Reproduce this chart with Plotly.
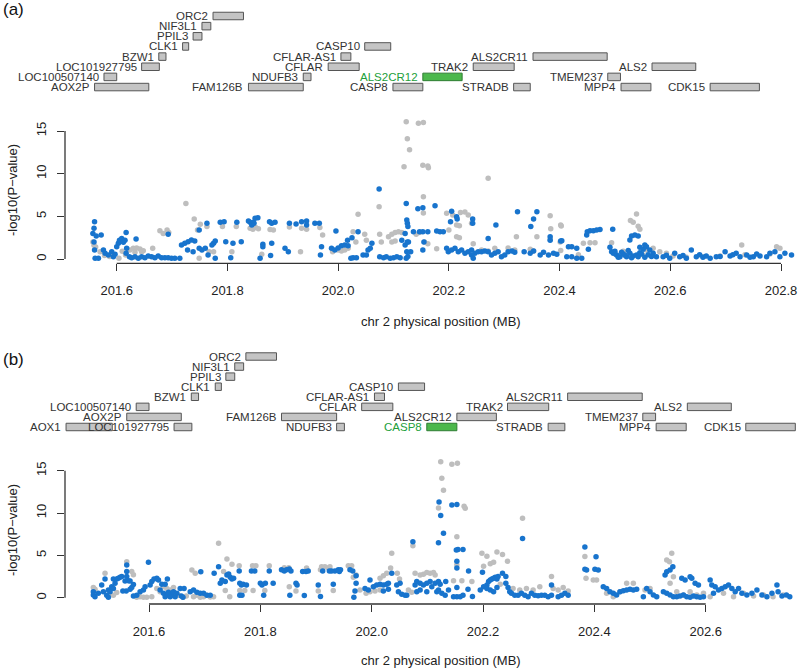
import plotly.graph_objects as go

# ---------------- gene track data (positions in MB) ----------------
gene_names = ["AOX1", "AOX2P", "LOC100507140", "LOC101927795", "BZW1", "CLK1", "PPIL3",
              "NIF3L1", "ORC2", "FAM126B", "NDUFB3", "CFLAR", "CFLAR-AS1", "CASP10",
              "CASP8", "ALS2CR12", "TRAK2", "STRADB", "ALS2CR11", "TMEM237", "MPP4",
              "ALS2", "CDK15"]
gene_start = [201.451, 201.560, 201.577, 201.645, 201.676, 201.719, 201.738,
              201.754, 201.774, 201.838, 201.937, 201.982, 202.005, 202.048,
              202.099, 202.153, 202.244, 202.317, 202.352, 202.487, 202.511,
              202.567, 202.672]
gene_end = [201.534, 201.658, 201.600, 201.677, 201.689, 201.730, 201.754,
            201.770, 201.829, 201.937, 201.951, 202.038, 202.023, 202.095,
            202.153, 202.224, 202.318, 202.347, 202.486, 202.510, 202.565,
            202.646, 202.761]
rows_a = [None, 7, 6, 5, 4, 3, 2, 1, 0, 7, 6, 5, 4, 3, 7, 6, 5, 7, 4, 6, 7, 5, 7]
rows_b = [7, 6, 5, 7, 4, 3, 2, 1, 0, 6, 7, 5, 4, 3, 7, 6, 5, 7, 4, 6, 7, 5, 7]
highlight_a = "ALS2CR12"
highlight_b = "CASP8"

x_ticks_a = [201.6, 201.8, 202.0, 202.2, 202.4, 202.6, 202.8]
x_ticks_b = [201.6, 201.8, 202.0, 202.2, 202.4, 202.6]
y_ticks = [0, 5, 10, 15]

# ---------------- association data: (position MB, -log10 P) ----------------
a_gray = [
    (201.557, 2.0), (201.559, 1.6), (201.562, 1.4), (201.570, 0.86), (201.578, 0.4),
    (201.587, 0.3), (201.593, 0.5), (201.604, 0.1), (201.610, 0.9), (201.616, 0.47),
    (201.624, 1.05), (201.630, 1.25), (201.636, 1.3), (201.642, 1.18), (201.648, 0.98),
    (201.633, 0.78), (201.645, 0.86), (201.665, 1.25), (201.678, 3.3), (201.684, 3.0),
    (201.691, 3.4), (201.694, 3.1), (201.725, 6.5), (201.740, 4.7), (201.751, 4.07),
    (201.746, 3.4), (201.749, 0.1), (201.767, 0.86), (201.763, 3.8), (201.775, 0.86),
    (201.791, 3.8), (201.808, 0.86), (201.816, 3.8), (201.841, 3.6), (201.846, 3.5),
    (201.851, 3.7), (201.856, 3.55), (201.862, 0.55), (201.877, 3.45), (201.883, 3.4),
    (201.912, 3.75), (201.934, 3.6), (201.943, 3.5), (201.932, 0.86), (201.967, 3.7),
    (201.972, 2.8), (201.990, 0.86), (202.000, 1.05), (202.006, 0.94), (202.012, 1.05),
    (202.018, 1.25), (202.027, 3.2), (202.032, 2.0), (202.036, 5.24), (202.048, 2.9),
    (202.051, 2.2), (202.074, 6.13), (202.075, 2.9), (202.078, 2.0), (202.091, 2.6),
    (202.097, 2.9), (202.103, 3.1), (202.109, 3.2), (202.115, 3.1), (202.097, 2.0),
    (202.103, 2.1), (202.119, 10.8), (202.123, 16.1), (202.125, 14.1), (202.129, 12.8),
    (202.145, 15.9), (202.154, 16.0), (202.153, 11.0), (202.162, 10.9), (202.163, 10.7),
    (202.154, 7.3), (202.154, 5.4), (202.141, 2.9), (202.147, 3.1), (202.162, 1.8),
    (202.156, 2.0), (202.178, 1.2), (202.196, 5.36), (202.200, 3.4), (202.207, 5.15),
    (202.214, 4.0), (202.219, 3.9), (202.221, 5.45), (202.229, 5.5), (202.235, 5.15),
    (202.241, 4.2), (202.244, 1.8), (202.214, 2.6), (202.219, 2.5), (202.271, 9.46),
    (202.259, 1.05), (202.271, 0.94), (202.283, 1.25), (202.307, 1.3), (202.319, 1.05),
    (202.322, 2.6), (202.347, 1.15), (202.353, 0.94), (202.359, 2.6), (202.383, 5.07),
    (202.384, 3.55), (202.383, 2.3), (202.402, 4.0), (202.402, 1.0), (202.403, 3.87),
    (202.401, 2.0), (202.434, 0.5), (202.443, 1.84), (202.455, 1.9), (202.464, 1.9),
    (202.494, 1.9), (202.500, 0.6), (202.515, 0.9), (202.520, 0.4), (202.528, 4.5),
    (202.533, 4.3), (202.539, 5.27), (202.542, 3.85), (202.545, 3.5), (202.550, 0.5),
    (202.557, 1.05), (202.569, 1.25), (202.581, 0.86), (202.593, 0.67), (202.605, 0.35),
    (202.629, 0.2), (202.659, 0.27), (202.690, 0.35), (202.729, 1.64), (202.735, 0.5),
    (202.780, 0.6), (202.792, 1.44), (202.798, 1.25),
]
a_blue = [
    (201.560, 4.37), (201.559, 3.6), (201.557, 3.0), (201.563, 2.7), (201.572, 2.8),
    (201.559, 2.0), (201.560, 1.05), (201.561, 0.1), (201.567, 0.1), (201.576, 1.05),
    (201.579, 0.67), (201.585, 0.47), (201.591, 0.86), (201.594, 0.27), (201.597, 0.55),
    (201.600, 1.44), (201.603, 1.84), (201.605, 2.2), (201.609, 2.4), (201.612, 1.95),
    (201.617, 3.1), (201.615, 2.2), (201.618, 1.25), (201.617, 0.67), (201.623, 0.27),
    (201.627, 0.15), (201.633, 0.27), (201.639, 0.1), (201.645, 0.27), (201.651, 0.15),
    (201.657, 0.35), (201.663, 0.27), (201.669, 0.15), (201.675, 0.35), (201.681, 0.15),
    (201.687, 0.15), (201.693, 0.15), (201.699, 0.1), (201.705, 0.1), (201.714, 0.1),
    (201.635, 2.35), (201.693, 2.9), (201.717, 1.64), (201.723, 1.84), (201.729, 2.03),
    (201.735, 2.23), (201.741, 2.1), (201.728, 1.05), (201.738, 0.86), (201.749, 3.4),
    (201.749, 1.25), (201.754, 1.05), (201.760, 1.25), (201.763, 4.2), (201.765, 0.47),
    (201.772, 1.64), (201.775, 1.84), (201.778, 2.1), (201.778, 0.1), (201.787, 4.3),
    (201.794, 4.37), (201.797, 2.03), (201.806, 0.15), (201.810, 1.84), (201.817, 4.3),
    (201.825, 2.03), (201.838, 4.45), (201.841, 4.3), (201.844, 4.0), (201.847, 4.3),
    (201.850, 4.77), (201.855, 4.84), (201.848, 4.2), (201.859, 0.1), (201.864, 1.72),
    (201.864, 1.44), (201.876, 4.37), (201.880, 4.2), (201.886, 4.3), (201.880, 1.84),
    (201.878, 0.4), (201.904, 1.25), (201.910, 0.86), (201.912, 4.2), (201.924, 4.1),
    (201.934, 4.37), (201.943, 4.45), (201.943, 4.0), (201.958, 4.2), (201.966, 4.2),
    (201.970, 1.44), (201.968, 0.47), (201.988, 1.25), (201.994, 1.05), (201.996, 3.28),
    (202.000, 1.3), (202.006, 1.56), (202.012, 1.64), (202.018, 1.56), (202.023, 0.1),
    (202.027, 0.15), (202.033, 0.15), (202.017, 2.2), (202.025, 2.5), (202.036, 3.2),
    (202.045, 0.47), (202.051, 0.47), (202.054, 1.05), (202.058, 1.25), (202.061, 1.84),
    (202.074, 8.2), (202.075, 0.27), (202.082, 0.15), (202.087, 0.27), (202.094, 0.1),
    (202.100, 0.15), (202.106, 0.27), (202.112, 0.15), (202.115, 2.2), (202.121, 3.0),
    (202.123, 6.5), (202.124, 4.57), (202.125, 4.2), (202.126, 3.8), (202.121, 1.64),
    (202.125, 2.0), (202.124, 0.86), (202.123, 0.1), (202.126, 0.3), (202.127, 2.0),
    (202.131, 0.86), (202.136, 3.2), (202.144, 5.9), (202.153, 6.0), (202.147, 3.2),
    (202.153, 3.2), (202.162, 3.2), (202.153, 1.05), (202.155, 2.0), (202.175, 6.25),
    (202.178, 3.28), (202.184, 3.2), (202.190, 3.2), (202.196, 1.25), (202.199, 0.86),
    (202.205, 1.05), (202.211, 1.25), (202.217, 0.86), (202.223, 1.05), (202.229, 0.67),
    (202.235, 0.86), (202.241, 1.05), (202.247, 0.67), (202.253, 0.86), (202.205, 5.6),
    (202.203, 4.37), (202.214, 4.96), (202.215, 4.7), (202.243, 4.7), (202.243, 4.2),
    (202.241, 0.47), (202.244, 0.1), (202.259, 0.86), (202.265, 0.94), (202.271, 0.86),
    (202.277, 0.47), (202.283, 0.67), (202.289, 0.86), (202.295, 0.27), (202.301, 0.47),
    (202.307, 0.86), (202.314, 0.94), (202.319, 0.78), (202.271, 2.4), (202.285, 4.0),
    (202.324, 5.55), (202.348, 3.8), (202.353, 4.7), (202.359, 5.55), (202.336, 0.86),
    (202.347, 0.67), (202.353, 0.94), (202.365, 0.47), (202.371, 0.78), (202.380, 0.47),
    (202.389, 0.67), (202.395, 0.55), (202.383, 2.6), (202.383, 2.2), (202.402, 2.1),
    (202.404, 2.15), (202.416, 1.44), (202.422, 1.44), (202.431, 1.25), (202.413, 0.27),
    (202.422, 0.27), (202.431, 0.1), (202.440, 0.1), (202.449, 2.8), (202.450, 3.2),
    (202.455, 3.32), (202.461, 3.32), (202.467, 3.4), (202.473, 3.47), (202.452, 1.13),
    (202.496, 3.48), (202.491, 1.37), (202.494, 0.86), (202.497, 0.67), (202.503, 0.47),
    (202.509, 0.27), (202.515, 0.59), (202.521, 0.27), (202.527, 0.67), (202.533, 0.35),
    (202.539, 0.47), (202.545, 0.74), (202.551, 1.13), (202.557, 1.44), (202.563, 1.05),
    (202.569, 0.67), (202.575, 0.27), (202.500, 0.9), (202.506, 0.2), (202.512, 0.8),
    (202.518, 0.45), (202.524, 1.0), (202.530, 0.15), (202.542, 0.25), (202.548, 0.6),
    (202.554, 0.2), (202.560, 0.5), (202.566, 0.3), (202.527, 2.23), (202.530, 2.7),
    (202.536, 2.8), (202.542, 2.7), (202.545, 1.37), (202.554, 1.64), (202.587, 0.27),
    (202.599, 0.1), (202.608, 0.67), (202.617, 0.27), (202.629, 0.1), (202.638, 1.05),
    (202.647, 0.27), (202.659, 0.2), (202.672, 0.1), (202.683, 0.27), (202.699, 0.86),
    (202.708, 0.35), (202.719, 0.67), (202.726, 0.27), (202.738, 0.47), (202.750, 0.27),
    (202.762, 0.35), (202.774, 0.27), (202.780, 0.67), (202.789, 0.86), (202.798, 0.27),
    (202.807, 0.67), (202.819, 0.47), (202.593, 0.45), (202.623, 0.4), (202.653, 0.5),
    (202.665, 0.35), (202.690, 0.3), (202.713, 0.5), (202.744, 0.2), (202.756, 0.6),
]
b_gray = [
    (201.500, 1.2), (201.503, 1.0), (201.521, 2.9), (201.530, 0.5), (201.536, 0.3),
    (201.542, 0.6), (201.560, 4.25), (201.569, 3.1), (201.572, 2.7), (201.578, 0.05),
    (201.584, 0.12), (201.590, 0.05), (201.596, 0.05), (201.605, 0.1), (201.614, 1.1),
    (201.620, 0.71), (201.626, 1.3), (201.632, 1.1), (201.638, 0.91), (201.644, 1.2),
    (201.653, 0.3), (201.661, 0.05), (201.667, 0.2), (201.677, 3.27), (201.683, 2.9),
    (201.680, 0.12), (201.686, 0.3), (201.692, 0.05), (201.698, 0.12), (201.704, 0.3),
    (201.710, 0.08), (201.716, 0.12), (201.725, 6.42), (201.740, 4.57), (201.749, 3.94),
    (201.734, 3.1), (201.737, 0.85), (201.745, 0.1), (201.762, 3.78), (201.763, 0.85),
    (201.772, 0.85), (201.786, 3.78), (201.792, 3.78), (201.787, 0.85), (201.816, 3.78),
    (201.808, 0.85), (201.843, 3.55), (201.851, 3.55), (201.883, 3.5), (201.864, 0.8),
    (201.852, 1.3), (201.904, 0.8), (201.908, 3.3), (201.922, 3.5), (201.910, 3.66),
    (201.916, 3.66), (201.925, 3.66), (201.958, 3.78), (201.964, 3.78), (201.931, 0.85),
    (201.967, 2.4), (201.972, 2.68), (201.979, 0.91), (201.990, 0.52), (201.997, 0.71),
    (202.006, 0.79), (202.015, 0.91), (202.015, 2.3), (202.021, 2.6), (202.027, 2.88),
    (202.036, 5.24), (202.034, 3.5), (202.046, 2.88), (202.050, 2.2), (202.074, 6.13),
    (202.078, 2.88), (202.087, 2.68), (202.093, 2.76), (202.099, 2.99), (202.105, 2.88),
    (202.111, 2.99), (202.114, 2.68), (202.066, 0.91), (202.072, 0.64), (202.120, 10.6),
    (202.124, 16.06), (202.126, 14.1), (202.129, 12.7), (202.144, 15.75), (202.154, 15.87),
    (202.166, 10.8), (202.168, 10.55), (202.153, 7.2), (202.153, 3.9), (202.147, 2.0),
    (202.162, 2.0), (202.180, 1.9), (202.198, 5.24), (202.201, 3.7), (202.207, 4.9),
    (202.213, 4.0), (202.219, 4.2), (202.225, 5.4), (202.235, 5.1), (202.244, 4.3),
    (202.231, 1.6), (202.254, 1.1), (202.266, 0.91), (202.278, 1.1), (202.290, 0.91),
    (202.302, 1.3), (202.271, 9.38), (202.323, 2.5), (202.326, 1.1), (202.335, 0.9),
    (202.344, 1.2), (202.353, 0.8), (202.383, 4.85), (202.385, 2.3), (202.398, 2.1),
    (202.404, 2.1), (202.422, 0.52), (202.434, 0.12), (202.446, 0.71), (202.458, 1.7),
    (202.470, 1.7), (202.491, 0.91), (202.500, 1.1), (202.530, 4.45), (202.539, 5.24),
    (202.535, 4.25), (202.542, 2.48), (202.536, 1.7), (202.548, 0.71), (202.560, 0.32),
    (202.572, 0.71), (202.584, 0.32), (202.596, 0.52), (202.608, 0.12), (202.632, 0.52),
    (202.650, 0.12), (202.668, 0.52), (202.686, 0.2), (202.704, 0.32), (202.721, 0.12),
    (202.739, 0.32),
]
b_blue = [
    (201.500, 0.71), (201.500, 0.31), (201.503, 0.12), (201.509, 0.52), (201.515, 1.5),
    (201.518, 0.71), (201.521, 2.2), (201.524, 0.3), (201.527, 0.91), (201.530, 0.71),
    (201.533, 1.3), (201.536, 1.1), (201.539, 1.7), (201.536, 2.2), (201.542, 2.2),
    (201.545, 2.3), (201.548, 2.4), (201.551, 2.5), (201.527, 0.05), (201.553, 0.8),
    (201.557, 1.97), (201.560, 3.86), (201.560, 3.1), (201.560, 2.5), (201.563, 2.0),
    (201.566, 1.97), (201.559, 0.8), (201.566, 1.0), (201.569, 1.2), (201.572, 1.55),
    (201.572, 0.2), (201.578, 0.3), (201.584, 0.71), (201.590, 0.91), (201.593, 1.3),
    (201.599, 4.18), (201.602, 1.5), (201.605, 1.9), (201.609, 2.2), (201.614, 2.3),
    (201.617, 2.1), (201.623, 1.6), (201.629, 1.6), (201.633, 2.2), (201.620, 0.91),
    (201.626, 0.52), (201.629, 0.12), (201.632, 0.3), (201.635, 0.63), (201.638, 0.12),
    (201.641, 0.3), (201.644, 0.71), (201.647, 0.12), (201.650, 0.52), (201.656, 1.1),
    (201.658, 0.2), (201.661, 0.05), (201.663, 1.1), (201.674, 0.71), (201.680, 0.91),
    (201.686, 0.63), (201.692, 0.52), (201.698, 0.52), (201.704, 0.3), (201.710, 0.3),
    (201.693, 3.07), (201.717, 2.9), (201.725, 3.66), (201.728, 1.7), (201.731, 2.1),
    (201.737, 1.9), (201.740, 2.68), (201.743, 2.8), (201.746, 2.4), (201.749, 2.2),
    (201.752, 2.3), (201.762, 3.15), (201.763, 1.7), (201.766, 1.5), (201.769, 1.6),
    (201.775, 1.5), (201.763, 0.3), (201.767, 0.3), (201.784, 3.15), (201.790, 3.15),
    (201.800, 1.7), (201.803, 1.5), (201.809, 1.7), (201.806, 0.3), (201.816, 3.15),
    (201.823, 1.7), (201.838, 3.3), (201.843, 3.15), (201.847, 3.3), (201.852, 3.4),
    (201.855, 3.15), (201.853, 0.3), (201.864, 1.7), (201.866, 1.5), (201.876, 3.1),
    (201.882, 3.1), (201.886, 3.15), (201.879, 0.25), (201.904, 1.5), (201.908, 0.15),
    (201.912, 3.15), (201.924, 3.15), (201.928, 3.15), (201.934, 3.15), (201.940, 3.3),
    (201.944, 3.3), (201.942, 3.1), (201.931, 1.6), (201.961, 3.3), (201.966, 3.15),
    (201.972, 2.6), (201.972, 1.7), (201.970, 0.8), (201.968, 0.05), (201.988, 1.1),
    (201.994, 0.91), (201.997, 2.1), (202.003, 1.3), (202.009, 1.5), (202.015, 1.6),
    (202.021, 1.5), (202.027, 1.6), (202.030, 1.7), (202.021, 0.8), (202.030, 1.0),
    (202.036, 2.9), (202.045, 1.5), (202.051, 1.7), (202.048, 0.71), (202.054, 0.4),
    (202.060, 0.3), (202.063, 0.3), (202.074, 6.6), (202.078, 1.5), (202.081, 1.9),
    (202.087, 1.7), (202.093, 1.5), (202.099, 1.7), (202.105, 1.9), (202.108, 1.3),
    (202.114, 1.7), (202.120, 1.9), (202.123, 1.6), (202.081, 0.71), (202.087, 0.91),
    (202.099, 0.71), (202.117, 0.71), (202.120, 0.91), (202.126, 0.52), (202.121, 11.3),
    (202.124, 9.7), (202.129, 7.6), (202.120, 6.5), (202.133, 1.9), (202.138, 0.91),
    (202.132, 0.3), (202.144, 10.95), (202.153, 11.0), (202.152, 5.63), (202.155, 5.7),
    (202.164, 5.7), (202.153, 4.3), (202.153, 3.5), (202.153, 1.2), (202.147, 0.12),
    (202.153, 0.12), (202.159, 0.12), (202.164, 0.3), (202.174, 3.15), (202.173, 1.0),
    (202.181, 0.15), (202.199, 3.0), (202.195, 0.91), (202.201, 1.3), (202.207, 1.5),
    (202.210, 1.9), (202.213, 2.1), (202.216, 2.2), (202.219, 2.3), (202.222, 2.4),
    (202.225, 2.2), (202.227, 2.5), (202.207, 1.1), (202.213, 0.91), (202.219, 0.71),
    (202.225, 1.2), (202.235, 2.9), (202.241, 2.5), (202.241, 1.7), (202.245, 1.2),
    (202.248, 0.71), (202.251, 0.52), (202.257, 0.3), (202.263, 0.3), (202.269, 0.52),
    (202.275, 0.3), (202.281, 0.12), (202.287, 0.52), (202.293, 0.3), (202.299, 0.22),
    (202.305, 0.3), (202.311, 0.3), (202.317, 0.12), (202.323, 0.3), (202.335, 0.12),
    (202.341, 0.3), (202.347, 0.52), (202.353, 0.3), (202.271, 7.0), (202.323, 1.5),
    (202.383, 6.0), (202.383, 3.35), (202.386, 3.27), (202.403, 4.84), (202.401, 3.35),
    (202.407, 3.27), (202.416, 1.3), (202.422, 1.1), (202.428, 0.71), (202.434, 0.52),
    (202.440, 0.32), (202.446, 0.71), (202.452, 0.83), (202.458, 0.91), (202.464, 0.99),
    (202.470, 0.91), (202.476, 0.99), (202.494, 1.1), (202.500, 0.71), (202.506, 0.32),
    (202.512, 0.12), (202.488, 0.12), (202.527, 2.68), (202.530, 3.07), (202.536, 3.27),
    (202.541, 3.66), (202.524, 0.71), (202.530, 0.52), (202.536, 0.32), (202.542, 0.12),
    (202.548, 0.12), (202.554, 0.2), (202.560, 0.32), (202.566, 0.12), (202.572, 0.05),
    (202.578, 0.2), (202.584, 0.12), (202.590, 0.05), (202.596, 0.12), (202.557, 2.3),
    (202.563, 2.1), (202.572, 2.48), (202.575, 2.3), (202.581, 1.7), (202.587, 1.5),
    (202.608, 2.1), (202.611, 1.5), (202.617, 1.3), (202.614, 0.52), (202.623, 0.91),
    (202.629, 1.1), (202.635, 1.3), (202.641, 1.5), (202.647, 1.1), (202.653, 0.71),
    (202.659, 1.1), (202.665, 0.52), (202.674, 0.32), (202.683, 0.52), (202.692, 0.91),
    (202.701, 0.32), (202.710, 0.12), (202.719, 0.52), (202.728, 1.5), (202.730, 0.71),
    (202.737, 0.2), (202.745, 0.32), (202.751, 0.12),
]

# ---------------- styling ----------------
BLUE = "#1874CD"
GRAY = "#BEBEBE"
FONT = "Liberation Sans"
TXT = "#222222"
W, H = 800, 668
ML = 65


def py(px):  # pixel row -> paper fraction
    return 1 - px / H


def px_x(px):
    return (px - ML) / (W - ML)


fig = go.Figure()

panels = [
    dict(xa="x", ya="y", gray=a_gray, blue=a_blue),
    dict(xa="x2", ya="y3", gray=b_gray, blue=b_blue),
]
for p in panels:
    for pts, col in ((p["gray"], GRAY), (p["blue"], BLUE)):
        fig.add_trace(go.Scatter(
            x=[q[0] for q in pts], y=[q[1] for q in pts], mode="markers",
            marker=dict(color=col, size=5.5, line=dict(width=0)),
            xaxis=p["xa"], yaxis=p["ya"], showlegend=False, hoverinfo="skip"))

shapes = []
annotations = []

# gene tracks
for (xref, yref, rows, hl) in (("x", "y2", rows_a, highlight_a), ("x2", "y4", rows_b, highlight_b)):
    for name, s, e, r in zip(gene_names, gene_start, gene_end, rows):
        if r is None:
            continue
        green = name == hl
        shapes.append(dict(type="rect", xref=xref, yref=yref, x0=s, x1=e,
                           y0=r - 0.37, y1=r + 0.37,
                           fillcolor="#4CB84C" if green else "#C4C4C4",
                           line=dict(color="#2E7D32" if green else "#555555", width=1)))
        annotations.append(dict(x=s, y=r, xref=xref, yref=yref, text=name,
                                showarrow=False, xanchor="right", yanchor="middle",
                                xshift=-4, borderpad=0,
                                font=dict(family=FONT, size=11.5,
                                          color="#22A03A" if green else "#333333")))

# R-style axis lines spanning only the tick range
for xref, ya, ticks in (("x", "y", x_ticks_a), ("x2", "y3", x_ticks_b)):
    shapes.append(dict(type="line", xref=xref, yref=ya + " domain", x0=ticks[0], x1=ticks[-1],
                       y0=0, y1=0, line=dict(color="#333333", width=1.3)))
    shapes.append(dict(type="line", xref=xref + " domain", yref=ya, x0=0, x1=0,
                       y0=0, y1=15, line=dict(color="#333333", width=1.3)))

# titles and panel labels
for ytitle_px, xtitle_px, lab, lab_px in ((190, 321, "(a)", 10), (530, 660, "(b)", 359.5)):
    annotations.append(dict(x=px_x(441), y=py(xtitle_px), xref="paper", yref="paper",
                            text="chr 2 physical position (MB)", showarrow=False,
                            xanchor="center", yanchor="middle",
                            font=dict(family=FONT, size=13, color=TXT)))
    annotations.append(dict(x=px_x(12), y=py(ytitle_px), xref="paper", yref="paper",
                            text="-log10(P\u2212value)", showarrow=False, textangle=-90,
                            xanchor="center", yanchor="middle",
                            font=dict(family=FONT, size=13, color=TXT)))
    annotations.append(dict(x=px_x(1), y=py(lab_px), xref="paper", yref="paper",
                            text=lab, showarrow=False, xanchor="left", yanchor="middle",
                            font=dict(family=FONT, size=17, color="#111111")))

xcommon = dict(showgrid=False, zeroline=False, showline=False, ticks="outside",
               ticklen=7, tickwidth=1.3, tickcolor="#333333",
               tickfont=dict(family=FONT, size=13, color=TXT), ticklabelstandoff=8)
ycommon = dict(showgrid=False, zeroline=False, showline=False, ticks="outside",
               ticklen=7, tickwidth=1.3, tickcolor="#333333", tickangle=-90,
               tickvals=y_ticks, ticktext=[str(v) for v in y_ticks],
               tickfont=dict(family=FONT, size=13, color=TXT), ticklabelstandoff=6)

fig.update_layout(
    width=W, height=H, margin=dict(l=ML, r=0, t=0, b=0),
    paper_bgcolor="white", plot_bgcolor="white",
    xaxis=dict(domain=[0, 1], range=[201.5066, 202.8343], anchor="y",
               tickvals=x_ticks_a, ticktext=[f"{v:.1f}" for v in x_ticks_a], **xcommon),
    yaxis=dict(domain=[py(263.3), py(117.3)], range=[-0.504, 16.61], anchor="x", **ycommon),
    yaxis2=dict(domain=[py(97), py(6)], range=[7.98, -0.985], anchor="x", visible=False),
    xaxis2=dict(domain=[0, 1], range=[201.4491, 202.7694], anchor="y3",
                tickvals=x_ticks_b, ticktext=[f"{v:.1f}" for v in x_ticks_b], **xcommon),
    yaxis3=dict(domain=[py(604), py(455.5)], range=[-0.744, 16.79], anchor="x2", **ycommon),
    yaxis4=dict(domain=[py(437), py(346)], range=[7.994, -1.043], anchor="x2", visible=False),
    shapes=shapes, annotations=annotations,
)

# remove the browser's default 8px page margin so the figure sits at the window origin
fig.write_html("out.html", config={"displayModeBar": False},
               post_script="document.body.style.margin='0';document.body.style.overflow='hidden';")
